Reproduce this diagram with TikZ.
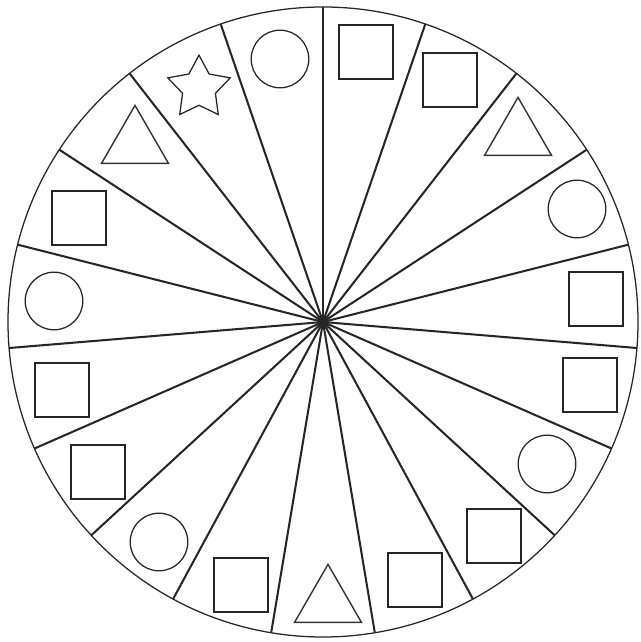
\documentclass[tikz,border=0pt]{standalone}
\usepackage{tikz}
\usetikzlibrary{shapes.geometric}

\begin{document}
\begin{tikzpicture}[x=0.025cm, y=0.025cm,
    spoke/.style={draw=black!85, line width=1.45pt},
    rim/.style={draw=black!85, line width=0.9pt},
    sq/.style={draw=black!85, line width=1pt, rectangle, minimum size=1.35cm, inner sep=0pt},
    ring/.style={draw=black!85, line width=0.9pt, circle, minimum size=1.44cm, inner sep=0pt},
    tri/.style={draw=black!80, line width=1pt, regular polygon, regular polygon sides=3, minimum size=1.93cm, inner sep=0pt},
    pentstar/.style={draw=black!85, line width=0.9pt, star, star points=5, star point ratio=1.9, minimum size=1.64cm, inner sep=0pt}]
  \useasboundingbox (-323, -320) rectangle (317, 322);

  % Wheel
  \coordinate (o) at (0, 0);
  \draw[rim] (o) circle (315);

  % Spokes
  \draw[spoke] (o) -- (90:315);
  \draw[spoke] (o) -- (71.05:315);
  \draw[spoke] (o) -- (52.11:315);
  \draw[spoke] (o) -- (33.16:315);
  \draw[spoke] (o) -- (14.21:315);
  \draw[spoke] (o) -- (-4.74:315);
  \draw[spoke] (o) -- (-23.68:315);
  \draw[spoke] (o) -- (-42.63:315);
  \draw[spoke] (o) -- (-61.58:315);
  \draw[spoke] (o) -- (-80.53:315);
  \draw[spoke] (o) -- (-99.47:315);
  \draw[spoke] (o) -- (-118.42:315);
  \draw[spoke] (o) -- (-137.37:315);
  \draw[spoke] (o) -- (-156.32:315);
  \draw[spoke] (o) -- (-175.26:315);
  \draw[spoke] (o) -- (165.79:315);
  \draw[spoke] (o) -- (146.84:315);
  \draw[spoke] (o) -- (127.89:315);
  \draw[spoke] (o) -- (108.95:315);

  % Shapes, clockwise from the top
  \node[sq] (s0) at (43, 270) {};
  \node[sq] (s1) at (127, 242) {};
  \node[tri] (s2) at (195, 186) {};
  \node[ring] (s3) at (254, 113) {};
  \node[sq] (s4) at (273, 23) {};
  \node[sq] (s5) at (267, -63) {};
  \node[ring] (s6) at (224, -142) {};
  \node[sq] (s7) at (171, -214) {};
  \node[sq] (s8) at (92, -258) {};
  \node[tri] (s9) at (5, -281) {};
  \node[sq] (s10) at (-82, -263) {};
  \node[ring] (s11) at (-164, -220) {};
  \node[sq] (s12) at (-225, -150) {};
  \node[sq] (s13) at (-261, -68) {};
  \node[ring] (s14) at (-269, 21) {};
  \node[sq] (s15) at (-244, 104) {};
  \node[tri] (s16) at (-188, 178) {};
  \node[pentstar] (s17) at (-124, 234) {};
  \node[ring] (s18) at (-43, 263) {};
\end{tikzpicture}
\end{document}
